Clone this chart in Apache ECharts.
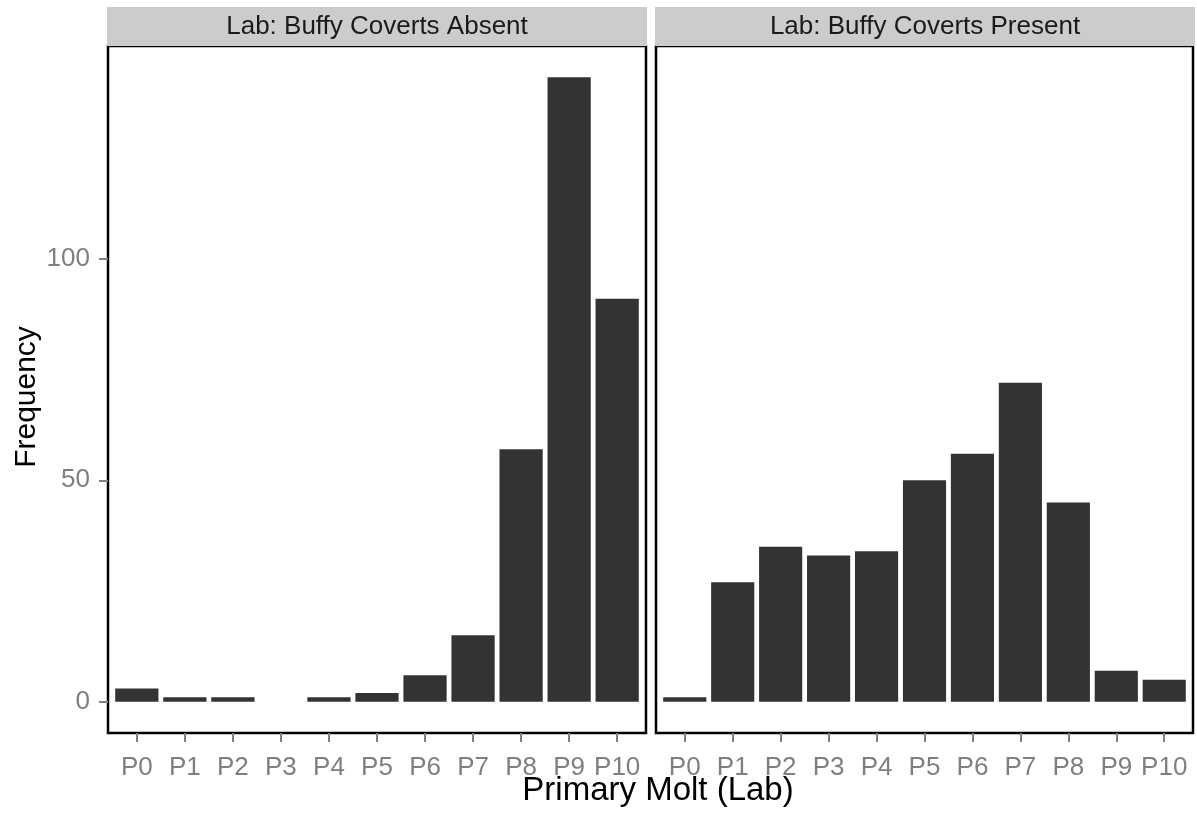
<!DOCTYPE html>
<html>
<head>
<meta charset="utf-8">
<script src="https://cdn.jsdelivr.net/npm/echarts@6/dist/echarts.min.js"></script>
<style>
html,body{margin:0;padding:0;background:#fff;}
#main{width:1197px;height:817px;}
</style>
</head>
<body>
<div id="main"></div>
<script>
const categories = ['P0','P1','P2','P3','P4','P5','P6','P7','P8','P9','P10'];
const absentValues = [3, 1, 1, 0, 1, 2, 6, 15, 57, 141, 91];
const presentValues = [1, 27, 35, 33, 34, 50, 56, 72, 45, 7, 5];
const panelTitles = ['Lab: Buffy Coverts Absent', 'Lab: Buffy Coverts Present'];
const yTicks = [0, 50, 100];
const xTitle = 'Primary Molt (Lab)';
const yTitle = 'Frequency';

const FONT = 'Liberation Sans, Arial, Helvetica, sans-serif';
const maxVal = Math.max(...absentValues, ...presentValues);
const yMin = -maxVal * 0.05, yMax = maxVal * 1.05;
const idx = categories.map((c, i) => i);

const chart = echarts.init(document.getElementById('main'), null, {renderer: 'canvas'});

const grids = [
  {left: 108, right: 551, top: 46, bottom: 84},
  {left: 656, right: 4, top: 46, bottom: 84}
];

function xAxis(gi) {
  return {
    type: 'value', gridIndex: gi, min: -0.6, max: categories.length - 0.4, position: 'bottom',
    axisLine: {show: false, onZero: false},
    splitLine: {show: false},
    axisTick: {show: true, customValues: idx, length: 9, lineStyle: {color: '#7f7f7f', width: 2}},
    axisLabel: {show: true, customValues: idx, formatter: v => categories[Math.round(v)] || '',
      color: '#7f7f7f', fontSize: 26, fontFamily: FONT, margin: 22}
  };
}
function yAxis(gi, showLabels) {
  return {
    type: 'value', gridIndex: gi, min: yMin, max: yMax, position: 'left',
    axisLine: {show: false, onZero: false},
    splitLine: {show: false},
    axisTick: {show: showLabels, customValues: yTicks, length: 9, lineStyle: {color: '#7f7f7f', width: 2}},
    axisLabel: {show: showLabels, customValues: yTicks, color: '#7f7f7f', fontSize: 26, fontFamily: FONT, margin: 18}
  };
}

const option = {
  backgroundColor: '#fff',
  animation: false,
  grid: grids.map(g => Object.assign({show: true, borderColor: '#000', borderWidth: 2.5, backgroundColor: '#fff'}, g)),
  xAxis: [xAxis(0), xAxis(1)],
  yAxis: [yAxis(0, true), yAxis(1, false)],
  series: [
    {type: 'bar', xAxisIndex: 0, yAxisIndex: 0, barWidth: '90%',
     data: absentValues.map((v, i) => [i, v]), itemStyle: {color: '#333333'}},
    {type: 'bar', xAxisIndex: 1, yAxisIndex: 1, barWidth: '90%',
     data: presentValues.map((v, i) => [i, v]), itemStyle: {color: '#333333'}}
  ],
  graphic: [
    {type: 'rect', shape: {x: 107, y: 7, width: 540, height: 39}, style: {fill: '#cccccc'}},
    {type: 'rect', shape: {x: 655, y: 7, width: 540, height: 39}, style: {fill: '#cccccc'}},
    {type: 'text', x: 377, y: 27, style: {text: panelTitles[0], fill: '#1a1a1a', font: '26px ' + FONT, textAlign: 'center', textVerticalAlign: 'middle'}},
    {type: 'text', x: 925, y: 27, style: {text: panelTitles[1], fill: '#1a1a1a', font: '26px ' + FONT, textAlign: 'center', textVerticalAlign: 'middle'}},
    {type: 'text', x: 658, y: 791, style: {text: xTitle, fill: '#000', font: '33px ' + FONT, textAlign: 'center', textVerticalAlign: 'middle'}},
    {type: 'text', x: 27, y: 397, rotation: Math.PI / 2, style: {text: yTitle, fill: '#000', font: '30px ' + FONT, textAlign: 'center', textVerticalAlign: 'middle'}}
  ]
};
chart.setOption(option);
</script>
</body>
</html>
